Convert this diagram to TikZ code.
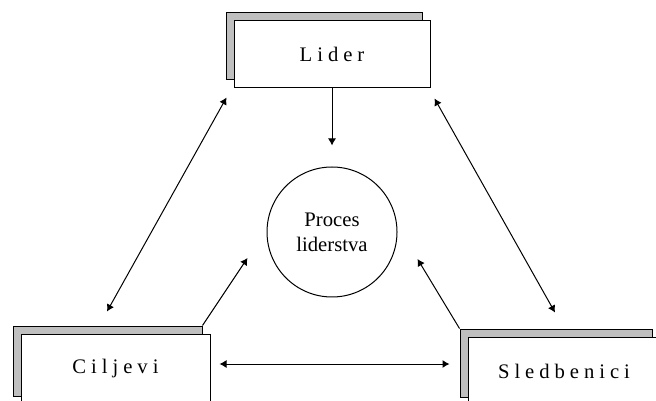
\documentclass[tikz,border=0pt]{standalone}
\usepackage{fontspec}
\setmainfont{Liberation Serif}
\newfontfamily\spacedfont[LetterSpace=24]{Liberation Serif}
\usepackage{tikz}
\usetikzlibrary{arrows.meta,shadows,calc}

\tikzset{
  shadowbox/.style={draw,line width=0.6pt,fill=white,inner sep=0pt,
    font=\spacedfont\fontsize{12.4}{15}\selectfont,
    copy shadow={shadow xshift=-4.8pt,shadow yshift=4.8pt,fill=black!25,draw=black,line width=0.6pt}},
  arr/.style={line width=0.6pt,-{Latex[length=4.2pt,width=4.8pt]}},
  dblarr/.style={line width=0.6pt,{Latex[length=4.2pt,width=4.8pt]}-{Latex[length=4.2pt,width=4.8pt]}}
}

\begin{document}
\begin{tikzpicture}[x=0.6pt,y=-0.6pt]
        \useasboundingbox (0,0) rectangle (656,401);
        \clip (0,0) rectangle (656,401);

        % Boxes
        \node[shadowbox,minimum width=117.6pt,minimum height=40.2pt] (lider) at (332,54.5) {Lider};
        \node[shadowbox,minimum width=113.4pt,minimum height=42pt] (ciljevi) at (115.5,369) {Ciljevi};
        \node[shadowbox,minimum width=115.2pt,minimum height=40.8pt] (sled) at (564,371) {Sledbenici};

        % Process circle
        \node[draw,circle,line width=0.6pt,minimum size=78pt,inner sep=0pt,align=center,
              font=\fontsize{12.4}{15}\selectfont] (proc) at (332,232) {Proces\\liderstva};

        % Lider to process
        \draw[arr] (lider.south) -- ($(proc.north)+(0,-21)$);

        % Lider to ciljevi and sledbenici
        \draw[dblarr] ($(lider.south west)+(-7,9)$) -- ($(ciljevi.north)+(-8.5,-22)$);
        \draw[dblarr] ($(lider.south east)+(4,10)$) -- ($(sled.north)+(-9,-24)$);

        % Ciljevi and sledbenici to process
        \draw[arr] ($(ciljevi.north east)+(-8,-8)$) -- ($(proc.west)+(-19,26)$);
        \draw[arr] ($(sled.north west)+(-8,-8)$) -- ($(proc.east)+(20,27)$);

        % Ciljevi to sledbenici
        \draw[dblarr] ($(ciljevi.east)+(9,-5)$) -- ($(sled.west)+(-18,-7)$);
    \end{tikzpicture}
\end{document}
